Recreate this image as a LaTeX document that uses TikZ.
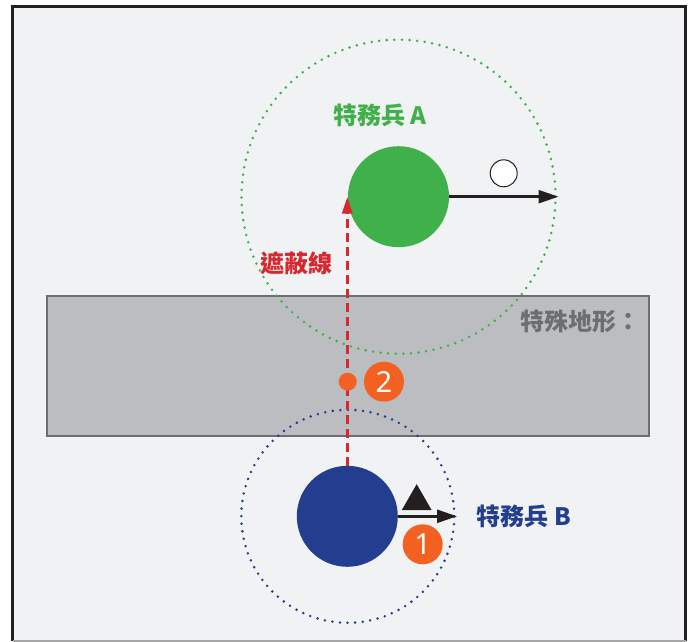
\documentclass[tikz,border=0pt]{standalone}
\usepackage{fontspec}
\setmainfont{Noto Sans}
\newfontfamily\cjk{Noto Sans CJK TC}
\usetikzlibrary{arrows.meta,shapes.geometric}
\definecolor{bgc}{HTML}{F1F2F4}
\definecolor{framec}{HTML}{231F20}
\definecolor{bandfill}{HTML}{BCBDC0}
\definecolor{bandline}{HTML}{6D6E71}
\definecolor{agreen}{HTML}{40B04A}
\definecolor{bblue}{HTML}{233E8F}
\definecolor{rred}{HTML}{D7282F}
\definecolor{oorange}{HTML}{F26122}
\definecolor{inkc}{HTML}{231F20}
\tikzset{
  agentdisc/.style={circle, inner sep=0pt, minimum size=101pt},
  rangering/.style={circle, inner sep=0pt, line width=2.8pt, line cap=round, dash pattern=on 0pt off 7.6pt},
  lbltext/.style={inner sep=0pt, font=\cjk\bfseries\fontsize{24}{24}\selectfont},
  badgedisc/.style={circle, fill=oorange, inner sep=0pt, minimum size=40pt, text=white, font=\fontsize{29}{29}\selectfont},
  moveline/.style={draw=inkc, line width=2.5pt, -{Triangle[length=20pt,width=13pt]}},
}
\begin{document}
\begin{tikzpicture}[x=1pt,y=-1pt]
\useasboundingbox (0,0) rectangle (689,642);
\fill[white] (0,0) rectangle (689,642);
\fill[bgc] (12.5,6.5) rectangle (685.5,641);
\draw[framec, line width=2.5pt] (12.5,641) -- (12.5,6.5) -- (685.5,6.5) -- (685.5,641);
\draw[black!35, line width=1.5pt] (12.5,641) -- (685.5,641);

% terrain band
\node[draw=bandline, fill=bandfill, line width=2pt, minimum width=602pt, minimum height=140pt, inner sep=0pt] (T) at (348,366) {};
\node[lbltext, text=bandline, anchor=east] (TL) at (641,321) {特殊地形：};

% range circles
\node[rangering, draw=agreen, minimum size=314pt] (RA) at (398.5,196.7) {};
\node[rangering, draw=bblue, minimum size=213pt] (RB) at (347.8,516.3) {};

% agents
\node[agentdisc, fill=agreen] (A) at (398.5,196.7) {};
\node[agentdisc, fill=bblue] (B) at (347.3,516.3) {};

% labels
\node[lbltext, text=agreen] (LA) at (380,115) {特務兵 A};
\node[lbltext, text=bblue] (LB) at (524,516) {特務兵 B};
\node[lbltext, text=rred] (LS) at (296.5,263) {遮蔽線};

% movement arrows
\coordinate (AE) at (558.5,196.7);
\draw[moveline] (A.east) -- (AE);
\coordinate (BE) at (457,516.3);
\draw[moveline] (B.east) -- (BE);

% markers
\node[circle, draw=inkc, fill=white, line width=1pt, minimum size=27pt, inner sep=0pt] (W) at (503.7,173.3) {};
\node[regular polygon, regular polygon sides=3, fill=inkc, minimum size=34.6pt, inner sep=0pt] (TR) at (416.7,501.5) {};

% line of sight
\draw[rred, line width=3pt, dash pattern=on 9pt off 5pt, -{Triangle[length=17pt,width=10pt]}] (B.north) -- (B.north |- A.west);
\node[circle, fill=oorange, minimum size=18pt, inner sep=0pt] (D) at (347.7,381.7) {};

% badges
\node[badgedisc] (N2) at (384,381.7) {2};
\node[badgedisc] (N1) at (422.7,544.3) {1};
\end{tikzpicture}
\end{document}
